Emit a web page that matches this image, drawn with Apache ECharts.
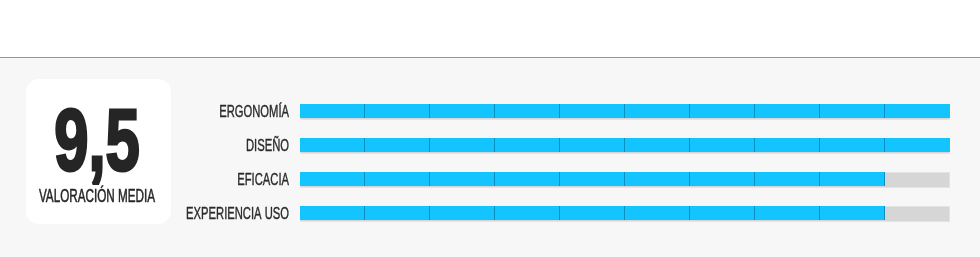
<!DOCTYPE html>
<html><head><meta charset="utf-8">
<script src="https://cdn.jsdelivr.net/npm/echarts@6/dist/echarts.min.js"></script>
<style>html,body{margin:0;padding:0;background:#f7f7f7}#c{width:980px;height:257px}</style>
</head><body><div id="c"></div>
<script>
const categories = ['ERGONOMÍA', 'DISEÑO', 'EFICACIA', 'EXPERIENCIA USO'];
const values = [10, 10, 9, 9];
const maxValues = [10, 10, 10, 10];
const summaryLabel = 'VALORACIÓN MEDIA';

const avg = values.reduce((a, b) => a + b, 0) / values.length;
const avgText = avg.toFixed(1).replace('.', ',');
const FONT = "'Liberation Sans', Arial, sans-serif";

const chart = echarts.init(document.getElementById('c'));
chart.setOption({
  backgroundColor: '#f7f7f7',
  animation: false,
  grid: { left: 300, right: 30, top: 94, bottom: 27 },
  xAxis: { type: 'value', min: 0, max: 10, show: false },
  yAxis: {
    type: 'category', data: categories, inverse: true,
    axisLine: { show: false }, axisTick: { show: false }, axisLabel: { show: false }
  },
  graphic: [
    { type: 'rect', shape: { x: 0, y: 0, width: 980, height: 57 }, style: { fill: '#ffffff' } },
    { type: 'line', shape: { x1: 0, y1: 57.5, x2: 980, y2: 57.5 }, style: { stroke: '#3ab2e4', lineWidth: 1 } },
    { type: 'rect', shape: { x: 26, y: 79, width: 145, height: 145, r: 13 }, style: { fill: '#ffffff' } },
    { type: 'text', x: 97, y: 190, scaleX: 0.7,
      style: { text: avgText, align: 'center', verticalAlign: 'bottom', fill: '#252525',
        stroke: '#252525', lineWidth: 3, font: "bold 88px " + FONT } },
    { type: 'text', x: 97, y: 206, scaleX: 0.65,
      style: { text: summaryLabel, align: 'center', verticalAlign: 'bottom', fill: '#252525',
        stroke: '#252525', lineWidth: 0.5, font: "18px " + FONT } }
  ],
  series: [
    {
      type: 'bar', data: maxValues, barWidth: 16, silent: true,
      itemStyle: { color: '#d6d6d6', borderColor: '#e3e3e3', borderWidth: 1 }
    },
    {
      type: 'bar', data: values, barWidth: 14, barGap: '-100%',
      itemStyle: { color: '#14c4ff' }
    },
    {
      type: 'custom', z: 5,
      data: values.map((v, i) => [v, i]),
      encode: { x: 0, y: 1 },
      renderItem: function (params, api) {
        const v = api.value(0), idx = api.value(1);
        const children = [];
        for (let k = 1; k < 10; k++) {
          if (k <= v + 1e-9) {
            const p = api.coord([k, idx]);
            children.push({ type: 'line', shape: { x1: Math.round(p[0]) - 0.5, y1: p[1] - 7, x2: Math.round(p[0]) - 0.5, y2: p[1] + 7 },
              style: { stroke: '#0b8ec0', lineWidth: 1 } });
          }
        }
        const o = api.coord([0, idx]);
        children.push({ type: 'text', x: o[0] - 11, y: o[1] + 1, scaleX: 0.66,
          style: { text: categories[idx], align: 'right', verticalAlign: 'middle', fill: '#2a2a2a',
            stroke: '#2a2a2a', lineWidth: 0.4, font: "17px " + FONT } });
        return { type: 'group', children: children };
      }
    }
  ]
});
</script></body></html>
